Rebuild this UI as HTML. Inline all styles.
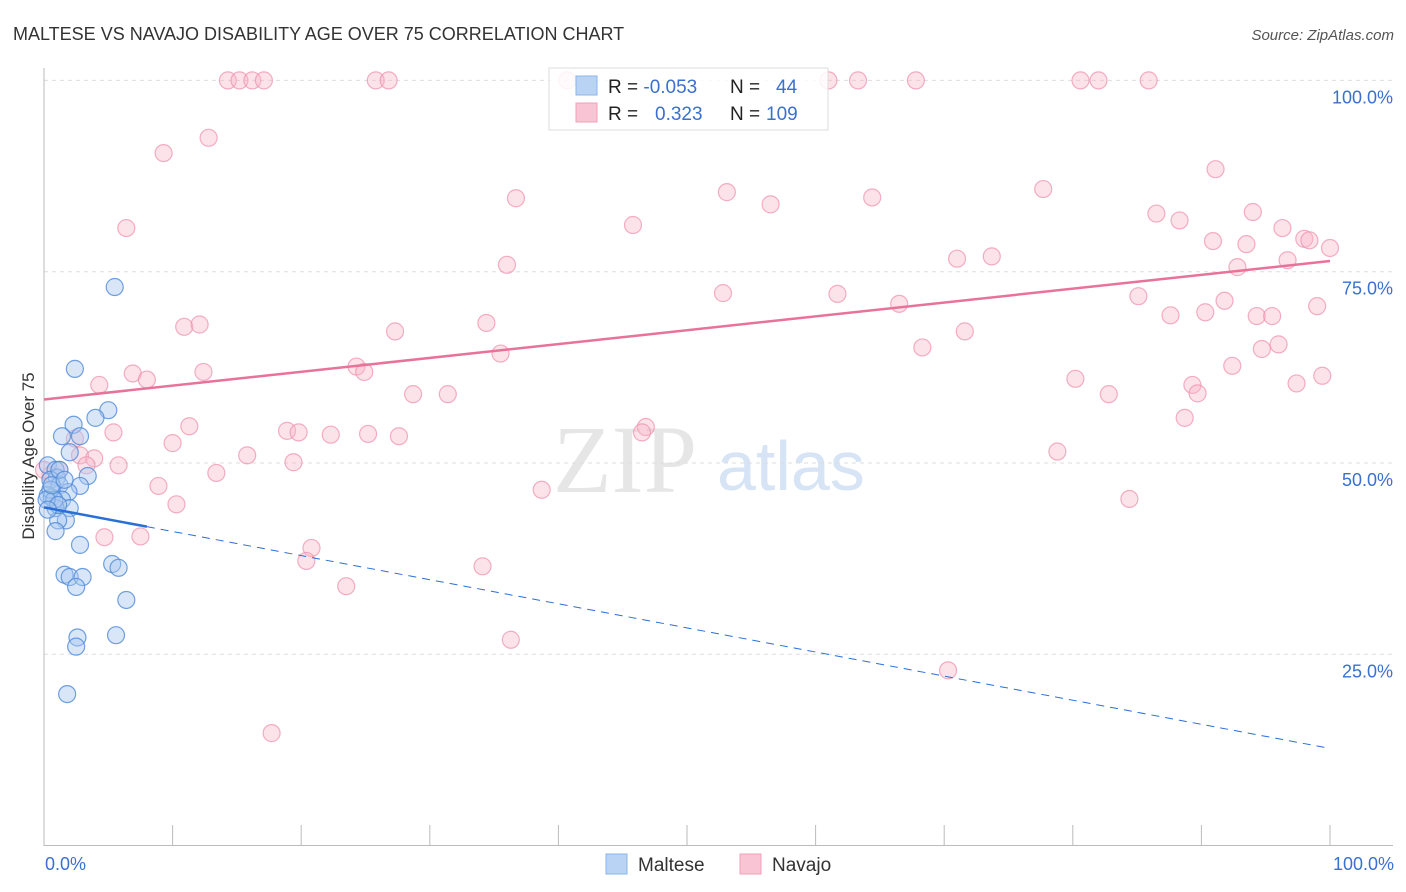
<!DOCTYPE html>
<html><head><meta charset="utf-8"><style>
body{margin:0;background:#fff;font-family:"Liberation Sans",sans-serif}
svg{display:block}
</style></head><body>
<svg id="chart" width="1406" height="892" xmlns="http://www.w3.org/2000/svg" font-family="Liberation Sans, sans-serif">
<text x="13" y="40" font-size="18" fill="#333">MALTESE VS NAVAJO DISABILITY AGE OVER 75 CORRELATION CHART</text>
<text x="1394" y="40" font-size="15" fill="#555" text-anchor="end" font-style="italic">Source: ZipAtlas.com</text>
<g>
<text x="553" y="492" font-size="96" font-family="Liberation Serif, serif" fill="#e6e6e6">ZIP</text>
<text x="717" y="490" font-size="70" fill="#d6e4f5">atlas</text>
</g>
<g id="grid"></g>
<g id="axes"></g>
<g id="pts"></g>
<g id="trends"></g>
<g>
<rect x="549" y="68" width="279" height="62" fill="#fff" fill-opacity="0.85" stroke="#ddd"/>
<rect x="576" y="76" width="21" height="19" fill="#b9d3f5" stroke="#8ab4ea"/>
<rect x="576" y="103" width="21" height="19" fill="#f9c4d4" stroke="#f1a0b8"/>
<text x="608" y="93" font-size="19" fill="#222">R = <tspan fill="#3a70d0">-0.053</tspan><tspan x="730">N = </tspan><tspan x="776" fill="#3a70d0">44</tspan></text>
<text x="608" y="120" font-size="19" fill="#222">R = <tspan x="655" fill="#3a70d0">0.323</tspan><tspan x="730">N = </tspan><tspan x="766" fill="#3a70d0">109</tspan></text>
</g>
<text transform="translate(34,456) rotate(-90)" font-size="17" fill="#333" text-anchor="middle">Disability Age Over 75</text>
<text x="45" y="870" font-size="18" fill="#3a70d0">0.0%</text>
<text x="1394" y="870" font-size="18" fill="#3a70d0" text-anchor="end">100.0%</text>
<g>
<rect x="606" y="854" width="21" height="20" fill="#b9d3f5" stroke="#8ab4ea"/>
<text x="638" y="871" font-size="19" fill="#333">Maltese</text>
<rect x="740" y="854" width="21" height="20" fill="#f9c4d4" stroke="#f1a0b8"/>
<text x="772" y="871" font-size="19" fill="#333">Navajo</text>
</g>
</svg>
<script>
const yTicks=[25,50,75,100];
const yTickLabels=["25.0%","50.0%","75.0%","100.0%"];
const xTicks=[10,20,30,40,50,60,70,80,90,100];
const malteseX=[5.5,2.4,5.0,4.0,2.3,1.4,2.8,2.0,0.3,0.9,1.0,3.4,0.5,1.2,2.8,1.9,0.3,0.6,1.4,2.0,0.9,1.7,1.1,0.9,2.8,1.6,2.0,3.0,5.3,5.8,2.5,6.4,2.6,2.5,5.6,1.8,0.5,0.8,0.2,1.2,0.6,1.6,1.1,0.3];
const malteseY=[73.0,62.3,56.9,55.9,55.0,53.5,53.5,51.4,49.7,49.1,48.1,48.3,47.8,47.1,47.0,46.2,45.8,45.5,45.2,44.1,44.1,42.5,42.5,41.1,39.3,35.4,35.1,35.1,36.8,36.3,33.8,32.1,27.2,26.0,27.5,19.8,46.5,45.2,45.2,49.1,47.1,47.8,44.5,43.9];
const navajoX=[14.3,15.2,16.2,17.1,25.8,26.8,40.7,61.0,63.3,67.8,80.6,82.0,85.9,12.8,9.3,91.1,53.1,77.7,36.7,56.5,64.4,6.4,45.8,86.5,88.3,94.0,96.3,90.9,93.5,98.0,98.4,100,73.7,71.0,36.0,96.7,92.8,52.8,61.7,85.1,66.5,91.8,87.6,90.3,94.3,95.5,99.0,10.9,12.1,27.3,34.4,71.6,68.3,96.0,94.7,35.5,4.3,6.9,8.0,12.4,24.3,24.9,92.4,80.2,89.3,97.4,99.4,89.7,82.8,28.7,31.4,88.7,5.4,11.3,10.0,2.4,18.9,19.8,22.3,25.2,27.6,46.8,46.5,15.8,78.8,2.8,3.9,3.3,5.8,19.4,1.2,0.5,0,13.4,8.9,38.7,10.3,84.4,4.7,7.5,20.8,20.4,34.1,23.5,36.3,70.3,17.7];
const navajoY=[100,100,100,100,100,100,100,100,100,100,100,100,100,92.5,90.5,88.4,85.4,85.8,84.6,83.8,84.7,80.7,81.1,82.6,81.7,82.8,80.7,79.0,78.6,79.3,79.1,78.1,77.0,76.7,75.9,76.5,75.6,72.2,72.1,71.8,70.8,71.2,69.3,69.7,69.2,69.2,70.5,67.8,68.1,67.2,68.3,67.2,65.1,65.5,64.9,64.3,60.2,61.7,60.9,61.9,62.6,61.9,62.7,61.0,60.2,60.4,61.4,59.1,59.0,59.0,59.0,55.9,54.0,54.8,52.6,53.2,54.2,54.0,53.7,53.8,53.5,54.7,54.0,51.0,51.5,51.0,50.6,49.7,49.7,50.1,49.1,48.4,49.1,48.7,47.0,46.5,44.6,45.3,40.3,40.4,38.9,37.2,36.5,33.9,26.9,22.9,14.7];
const malteseTrend=[44.2,12.7]; // y at x=0 and x=100
const malteseSolidEnd=[8];
const navajoTrend=[58.3,76.4];
const X=v=>44+v*12.86, Y=v=>845.6-v*7.652;
const NS="http://www.w3.org/2000/svg";
function mk(t,a,p){const e=document.createElementNS(NS,t);for(const k in a)e.setAttribute(k,a[k]);p.appendChild(e);return e;}
const grid=document.getElementById('grid'),axes=document.getElementById('axes'),pts=document.getElementById('pts'),tr=document.getElementById('trends');
yTicks.forEach((t,i)=>{
 const l=mk('line',{x1:44,x2:1393,y1:Y(t),y2:Y(t),stroke:'#ddd','stroke-dasharray':'4,4'},grid);
 
 
 const tx=mk('text',{x:1393,y:Y(t)+23,'font-size':18,fill:'#3a70d0','text-anchor':'end'},grid);
 tx.textContent=yTickLabels[i];
 
 
});
let a=mk('line',{x1:44,x2:44,y1:68,y2:846,stroke:'#bbb'},axes);


a=mk('line',{x1:44,x2:1393,y1:845.5,y2:845.5,stroke:'#bbb'},axes);


xTicks.forEach(t=>{const l=mk('line',{x1:X(t),x2:X(t),y1:825,y2:845,stroke:'#bbb'},axes);
 
 });
navajoX.forEach((v,i)=>{const c=mk('circle',{cx:X(v),cy:Y(navajoY[i]),r:8.5,fill:'#f7b6c9','fill-opacity':0.4,stroke:'#ee8fab','stroke-opacity':0.7,'stroke-width':1.2},pts);
 
 });
malteseX.forEach((v,i)=>{const c=mk('circle',{cx:X(v),cy:Y(malteseY[i]),r:8.5,fill:'#a9c8f0','fill-opacity':0.45,stroke:'#4f8ad8','stroke-opacity':0.8,'stroke-width':1.2},pts);
 
 });
const mt=x=>malteseTrend[0]+(malteseTrend[1]-malteseTrend[0])*x/100;
let t=mk('line',{x1:X(0),y1:Y(mt(0)),x2:X(malteseSolidEnd[0]),y2:Y(mt(malteseSolidEnd[0])),stroke:'#2a6fd6','stroke-width':2.5},tr);


t=mk('line',{x1:X(malteseSolidEnd[0]),y1:Y(mt(malteseSolidEnd[0])),x2:X(100),y2:Y(mt(100)),stroke:'#2a6fd6','stroke-width':1,'stroke-dasharray':'8,6'},tr);


t=mk('line',{x1:X(0),y1:Y(navajoTrend[0]),x2:X(100),y2:Y(navajoTrend[1]),stroke:'#e8729a','stroke-width':2.5},tr);


</script>
</body></html>
